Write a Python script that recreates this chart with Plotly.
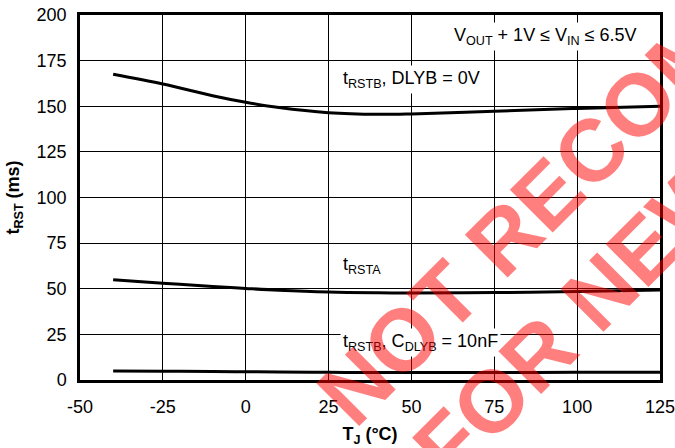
import plotly.graph_objects as go

# Junction temperature (°C)
tj = [-40, -25, -10, 0, 10, 25, 40, 50, 75, 100, 125]
# tRSTB, DLYB = 0V (ms)
t_rstb_0v = [167.5, 162.2, 155.8, 152.2, 149.3, 146.5, 145.6, 145.8, 147.2, 148.8, 150.0]
# tRSTA (ms)
t_rsta = [55.0, 53.0, 51.3, 50.2, 49.2, 48.2, 47.8, 47.7, 47.9, 48.5, 49.3]
# tRSTB, CDLYB = 10nF (ms)
t_rstb_10nf = [5.0, 4.8, 4.6, 4.5, 4.4, 4.2, 4.1, 4.1, 4.1, 4.2, 4.3]

x_ticks = [-50, -25, 0, 25, 50, 75, 100, 125]
y_ticks = [0, 25, 50, 75, 100, 125, 150, 175, 200]

FONT = "Liberation Sans, Arial, sans-serif"

fig = go.Figure()
for ys in (t_rstb_0v, t_rsta, t_rstb_10nf):
    fig.add_trace(go.Scatter(x=tj, y=ys, mode="lines",
                             line=dict(color="black", width=3, shape="spline"),
                             showlegend=False, hoverinfo="skip", cliponaxis=False))

labels = [
    dict(x=119, y=188, text="V<sub>OUT</sub> + 1V ≤ V<sub>IN</sub> ≤ 6.5V", xanchor="right"),
    dict(x=28.5, y=164.4, text="t<sub>RSTB</sub>, DLYB = 0V", xanchor="left"),
    dict(x=28.5, y=63, text="t<sub>RSTA</sub>", xanchor="left"),
    dict(x=28.5, y=20.8, text="t<sub>RSTB</sub>, C<sub>DLYB</sub> = 10nF", xanchor="left"),
]
for lb in labels:
    fig.add_annotation(x=lb["x"], y=lb["y"], text=lb["text"], xref="x", yref="y",
                       xanchor=lb["xanchor"], yanchor="middle", showarrow=False,
                       bgcolor="white", borderpad=2,
                       font=dict(family=FONT, size=18, color="black"))

# Watermark
wm = [("NOT RECOMMENDED", 0.998, 0.811), ("FOR NEW DESIGNS", 1.112, 0.581)]
for txt, px, py in wm:
    fig.add_annotation(x=px, y=py, xref="paper", yref="paper", text="<b>" + txt + "</b>",
                       showarrow=False, textangle=-45, xanchor="center", yanchor="middle",
                       font=dict(family=FONT, size=88, color="rgba(255,0,0,0.5)"))

fig.update_layout(
    width=675, height=448,
    margin=dict(l=80, r=15, t=15, b=68),
    paper_bgcolor="white", plot_bgcolor="white",
    font=dict(family=FONT, size=18, color="black"),
    xaxis=dict(range=[-50, 125], tickvals=x_ticks, ticktext=[str(v) for v in x_ticks],
               showgrid=True, gridcolor="black", gridwidth=1, automargin=False,
               showline=True, linecolor="black", linewidth=2.5, mirror=True,
               ticks="", ticklabelstandoff=9, ticklabeloverflow="allow", zeroline=False,
               title=dict(text="<b>T<sub>J</sub> (°C)</b>", standoff=12,
                          font=dict(family=FONT, size=18))),
    yaxis=dict(range=[0, 200], tickvals=y_ticks, ticktext=[str(v) for v in y_ticks],
               showgrid=True, gridcolor="black", gridwidth=1, automargin=False,
               showline=True, linecolor="black", linewidth=2.5, mirror=True,
               ticks="", ticklabelstandoff=7, ticklabeloverflow="allow", zeroline=False,
               title=dict(text="<b>t<sub>RST</sub> (ms)</b>", standoff=13,
                          font=dict(family=FONT, size=18))),
)

fig.write_html("out.html", config={"displayModeBar": False},
               post_script="document.body.style.margin='0';")
